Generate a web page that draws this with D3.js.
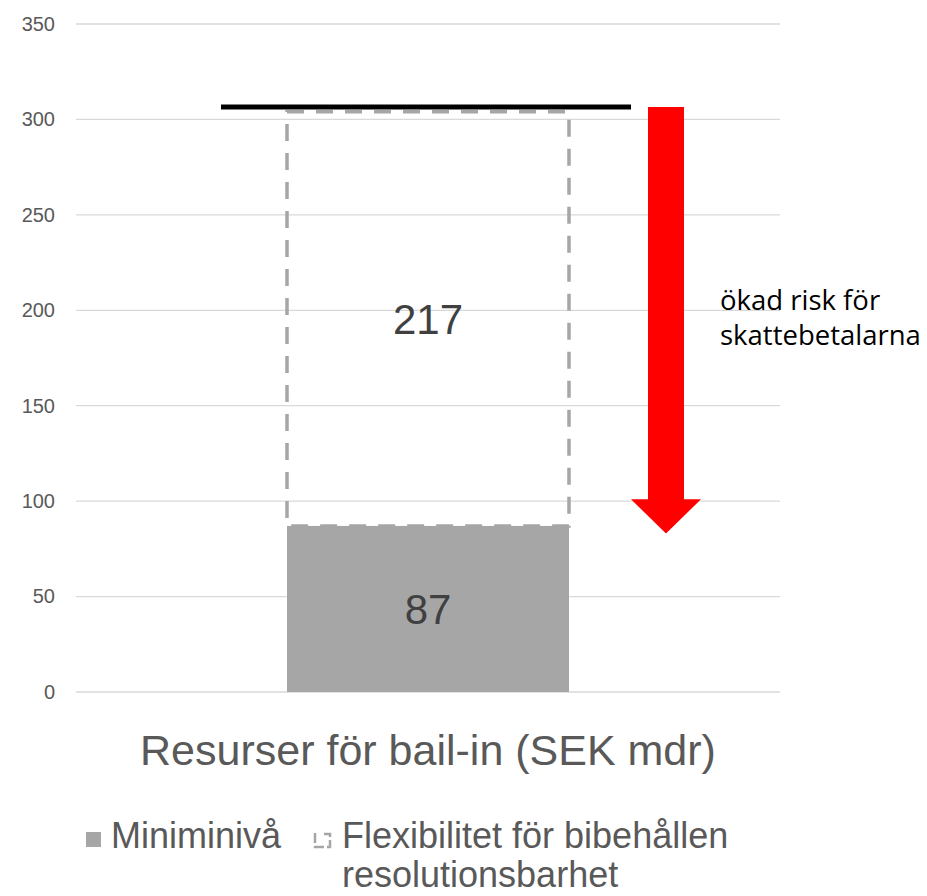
<!DOCTYPE html>
<html>
<head>
<meta charset="utf-8">
<script src="https://cdn.jsdelivr.net/npm/d3@7"></script>
<style>
  body { margin: 0; background: #fff; }
  svg { display: block; font-family: Arial, "Liberation Sans", sans-serif; }
</style>
</head>
<body>
<div id="container"></div>
<script>
// données du graphique
const categories = ['Resurser för bail-in (SEK mdr)']
const minimum = [87]
const flexibility = [217]
const yTicks = [0, 50, 100, 150, 200, 250, 300, 350]
const seriesNames = ['Miniminivå', 'Flexibilitet för bibehållen resolutionsbarhet']
// ligne noire + flèche rouge (annotation)
const topLine = [306.5]
const arrowRange = [306.5, 83]
const arrowHeadStart = [101]
const noteLines = ['ökad risk för', 'skattebetalarna']

const width = 927, height = 896
const margin = { top: 24, right: 147, bottom: 204, left: 76 }

const svg = d3.select('#container').append('svg')
  .attr('width', width)
  .attr('height', height)

const x = d3.scaleBand()
  .domain(categories)
  .range([margin.left, width - margin.right])
  .paddingInner(0.428)
  .paddingOuter(0.428)

const y = d3.scaleLinear()
  .domain([0, 350])
  .range([height - margin.bottom, margin.top])

// grille
svg.append('g')
  .selectAll('line')
  .data(yTicks)
  .join('line')
  .attr('x1', margin.left)
  .attr('x2', width - margin.right)
  .attr('y1', d => y(d))
  .attr('y2', d => y(d))
  .attr('stroke', '#d9d9d9')
  .attr('stroke-width', 1.3)

// axe y
const yAxis = d3.axisLeft(y).tickValues(yTicks).tickSize(0).tickPadding(0)
svg.append('g')
  .attr('transform', `translate(${margin.left - 21},0)`)
  .call(yAxis)
  .call(g => g.select('.domain').remove())
  .call(g => g.selectAll('text')
    .attr('font-size', 20)
    .attr('font-family', 'Arial, "Liberation Sans", sans-serif')
    .attr('fill', '#595959'))

// barre minimum
svg.append('g')
  .selectAll('rect')
  .data(categories)
  .join('rect')
  .attr('x', d => x(d))
  .attr('width', x.bandwidth())
  .attr('y', (d, i) => y(minimum[i]))
  .attr('height', (d, i) => y(0) - y(minimum[i]))
  .attr('fill', '#a6a6a6')

// barre flexibilité (pointillés)
svg.append('g')
  .selectAll('rect')
  .data(categories)
  .join('rect')
  .attr('x', d => x(d))
  .attr('width', x.bandwidth())
  .attr('y', (d, i) => y(minimum[i] + flexibility[i]))
  .attr('height', (d, i) => y(minimum[i]) - y(minimum[i] + flexibility[i]))
  .attr('fill', 'none')
  .attr('stroke', '#a6a6a6')
  .attr('stroke-width', 3.5)
  .attr('stroke-dasharray', '17,12')

// étiquettes
const labelFont = 42
categories.forEach((c, i) => {
  svg.append('text')
    .attr('x', x(c) + x.bandwidth() / 2)
    .attr('y', (y(0) + y(minimum[i])) / 2)
    .attr('dy', '0.36em')
    .attr('text-anchor', 'middle')
    .attr('font-size', labelFont)
    .attr('fill', '#404040')
    .text(minimum[i])
  svg.append('text')
    .attr('x', x(c) + x.bandwidth() / 2)
    .attr('y', (y(minimum[i]) + y(minimum[i] + flexibility[i])) / 2)
    .attr('dy', '0.36em')
    .attr('text-anchor', 'middle')
    .attr('font-size', labelFont)
    .attr('fill', '#404040')
    .text(flexibility[i])
})

// axe x (catégorie)
svg.append('g')
  .selectAll('text')
  .data(categories)
  .join('text')
  .attr('x', d => x(d) + x.bandwidth() / 2)
  .attr('y', y(0) + 73)
  .attr('text-anchor', 'middle')
  .attr('font-size', 43)
  .attr('fill', '#595959')
  .text(d => d)

// ligne noire
const band0 = x(categories[0])
svg.append('line')
  .attr('x1', band0 - 66)
  .attr('x2', band0 + x.bandwidth() + 62)
  .attr('y1', y(topLine[0]))
  .attr('y2', y(topLine[0]))
  .attr('stroke', '#000')
  .attr('stroke-width', 5)

// flèche rouge
const ax = band0 + x.bandwidth() + 97
const shaftW = 36, headW = 70
const yTop = y(arrowRange[0]), yTip = y(arrowRange[1]), yHead = y(arrowHeadStart[0])
svg.append('path')
  .attr('d', d3.line()([
    [ax - shaftW / 2, yTop], [ax + shaftW / 2, yTop], [ax + shaftW / 2, yHead],
    [ax + headW / 2, yHead], [ax, yTip], [ax - headW / 2, yHead],
    [ax - shaftW / 2, yHead]
  ]) + 'Z')
  .attr('fill', '#ff0000')

// texte annotation
svg.append('text')
  .attr('x', 720)
  .attr('y', 310)
  .attr('font-family', '"Open Sans", "Noto Sans", sans-serif')
  .attr('font-size', 27.5)
  .attr('fill', '#000')
  .selectAll('tspan')
  .data(noteLines)
  .join('tspan')
  .attr('x', 720)
  .attr('dy', (d, i) => i === 0 ? 0 : 35)
  .text(d => d)

// légende
const legend = svg.append('g').attr('font-size', 36).attr('fill', '#595959')
legend.append('rect')
  .attr('x', 86).attr('y', 832).attr('width', 15).attr('height', 15)
  .attr('fill', '#a6a6a6')
legend.append('text').attr('x', 111).attr('y', 848).text(seriesNames[0])

// icône pointillée
legend.append('path')
  .attr('d', 'M315,833 V847 H330 V834 H324')
  .attr('fill', 'none')
  .attr('stroke', '#a6a6a6')
  .attr('stroke-width', 2.5)
  .attr('stroke-dasharray', '10,3')
const words = seriesNames[1].split(' ')
legend.append('text').attr('x', 342).attr('y', 848).text(words.slice(0, 3).join(' '))
legend.append('text').attr('x', 342).attr('y', 887).text(words.slice(3).join(' '))
</script>
</body>
</html>
